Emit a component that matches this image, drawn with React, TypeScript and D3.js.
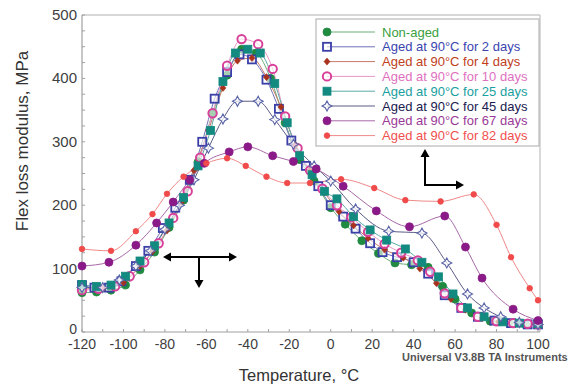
import React from "react";
import * as d3 from "d3";

type Pt = [number, number];

const xTicks = [-120, -100, -80, -60, -40, -20, 0, 20, 40, 60, 80, 100];
const yTicks = [0, 100, 200, 300, 400, 500];

const nonAged: Pt[] = [[-120,62],[-113,63],[-106,66],[-99,74],[-92,98],[-85,126],[-78,165],[-71,208],[-64,268],[-57,345],[-50,405],[-43,446],[-36,440],[-29,400],[-22,330],[-15,272],[-8,238],[0,196],[7,170],[15,144],[23,124],[31,109],[39,106],[47,102],[54,72],[60,52],[68,30],[77,17],[86,14],[94,12],[100,12]];
const aged2: Pt[] = [[-120,74],[-114,70],[-107,70],[-101,80],[-94,104],[-88,128],[-81,164],[-75,196],[-68,240],[-62,300],[-56,368],[-50,410],[-44,438],[-38,430],[-31,398],[-25,352],[-19,302],[-12,262],[-6,230],[0,200],[6,182],[12,163],[19,140],[25,126],[32,118],[40,110],[47,92],[55,58],[63,38],[71,24],[79,18],[87,14],[95,12],[100,12]];
const aged4: Pt[] = [[-120,70],[-110,68],[-100,78],[-92,104],[-86,127],[-79,160],[-72,205],[-66,255],[-59,318],[-52,385],[-45,428],[-38,432],[-31,402],[-24,355],[-17,295],[-10,255],[-3,220],[4,190],[11,168],[18,148],[26,130],[35,117],[43,100],[51,77],[58,52],[65,35],[73,22],[81,16],[90,13],[100,12]];
const aged10: Pt[] = [[-120,66],[-112,68],[-104,72],[-97,88],[-90,110],[-83,140],[-76,180],[-69,222],[-63,275],[-57,345],[-50,420],[-43,462],[-35,454],[-28,415],[-22,340],[-16,290],[-10,255],[-4,226],[3,200],[10,181],[18,158],[26,139],[34,125],[42,113],[48,95],[55,61],[63,38],[71,24],[80,17],[88,14],[95,13],[100,12]];
const aged25: Pt[] = [[-120,75],[-113,72],[-106,74],[-99,88],[-92,112],[-85,136],[-78,172],[-71,212],[-64,262],[-58,318],[-52,395],[-46,440],[-40,446],[-34,440],[-27,392],[-21,330],[-15,278],[-9,248],[-3,222],[3,210],[11,182],[19,161],[27,145],[36,131],[44,110],[52,87],[59,60],[66,38],[74,24],[83,16],[91,14],[100,13]];
const aged45: Pt[] = [[-120,70],[-110,70],[-102,82],[-94,104],[-87,128],[-80,162],[-73,200],[-66,240],[-59,290],[-52,336],[-45,364],[-35,364],[-27,335],[-18,296],[-8,262],[0,238],[12,194],[28,159],[44,156],[56,109],[66,60],[74,38],[82,24],[91,15],[100,12]];
const aged67: Pt[] = [[-120,104],[-107,110],[-94,137],[-84,172],[-76,205],[-68,240],[-61,266],[-49,284],[-40,292],[-28,278],[-18,269],[-7,257],[6,230],[22,191],[38,166],[55,183],[65,134],[73,85],[88,36],[100,18]];
const aged82: Pt[] = [[-120,131],[-106,128],[-94,159],[-86,186],[-79,218],[-71,245],[-60,266],[-50,274],[-41,262],[-31,245],[-21,235],[-10,235],[5,241],[21,227],[36,208],[53,206],[69,217],[80,169],[87,118],[96,69],[100,50]];

const seriesNames = [
  "Non-aged",
  "Aged at 90°C for 2 days",
  "Aged at 90°C for 4 days",
  "Aged at 90°C for 10 days",
  "Aged at 90°C for 25 days",
  "Aged at 90°C for 45 days",
  "Aged at 90°C for 67 days",
  "Aged at 90°C for 82 days",
];
const seriesData = [nonAged, aged2, aged4, aged10, aged25, aged45, aged67, aged82];

type Style = { marker: string; color: string; line: string; text: string; fill: string; r: number };
const styles: Style[] = [
  { marker: "circle", color: "#1f8a40", line: "#6aae78", text: "#3aa040", fill: "#1f8a40", r: 4 },
  { marker: "square", color: "#3b3fa8", line: "#7070b8", text: "#3a44b0", fill: "rgba(255,255,255,0.6)", r: 4 },
  { marker: "diamond", color: "#a8321e", line: "#c87868", text: "#c0401a", fill: "#a8321e", r: 3 },
  { marker: "circle", color: "#d8409a", line: "#e898c8", text: "#e070c0", fill: "rgba(255,255,255,0.6)", r: 4.2 },
  { marker: "square", color: "#138a80", line: "#58aaa4", text: "#1aa0a0", fill: "#138a80", r: 4 },
  { marker: "star", color: "#5a64a8", line: "#5a5a88", text: "#202050", fill: "rgba(255,255,255,0.7)", r: 5 },
  { marker: "circle", color: "#8a1a88", line: "#a868a8", text: "#9a3a98", fill: "#8a1a88", r: 4 },
  { marker: "circle", color: "#f04a4a", line: "#f08888", text: "#f05050", fill: "#f04a4a", r: 2.8 },
];

const W = 586, H = 384;
const x = d3.scaleLinear().domain([-120, 100]).range([82, 538]);
const y = d3.scaleLinear().domain([0, 500]).range([332, 15]);

function Marker({ s, cx, cy }: { s: Style; cx: number; cy: number }) {
  const r = s.r;
  if (s.marker === "circle") {
    const open = s.fill !== s.color;
    return <circle cx={cx} cy={cy} r={r} fill={s.fill} stroke={s.color} strokeWidth={open ? 2 : 0.8} />;
  }
  if (s.marker === "square") {
    const open = s.fill !== s.color;
    return <rect x={cx - r} y={cy - r} width={2 * r} height={2 * r} fill={s.fill} stroke={s.color} strokeWidth={open ? 1.8 : 0.8} />;
  }
  if (s.marker === "diamond") {
    return <path d={`M${cx},${cy - r - 0.5}L${cx + r},${cy}L${cx},${cy + r + 0.5}L${cx - r},${cy}Z`} fill={s.fill} stroke={s.color} strokeWidth={0.6} />;
  }
  const ri = r * 0.35;
  const d = `M${cx},${cy - r}L${cx + ri},${cy - ri}L${cx + r},${cy}L${cx + ri},${cy + ri}L${cx},${cy + r}L${cx - ri},${cy + ri}L${cx - r},${cy}L${cx - ri},${cy - ri}Z`;
  return <path d={d} fill={s.fill} stroke={s.color} strokeWidth={1.1} />;
}

function Arrow({ x1, y1, x2, y2 }: { x1: number; y1: number; x2: number; y2: number }) {
  const a = Math.atan2(y2 - y1, x2 - x1);
  const L = 8, Wd = 4.5;
  const bx = x2 - L * Math.cos(a), by = y2 - L * Math.sin(a);
  const px = -Math.sin(a) * Wd, py = Math.cos(a) * Wd;
  return (
    <g>
      <line x1={x1} y1={y1} x2={bx} y2={by} stroke="#000" strokeWidth={2} />
      <path d={`M${x2},${y2}L${bx + px},${by + py}L${bx - px},${by - py}Z`} fill="#000" />
    </g>
  );
}

export default function App() {
  const line = d3.line<Pt>().x(d => x(d[0])).y(d => y(d[1])).curve(d3.curveMonotoneX);
  const minorX = d3.range(-120, 101, 10);
  const minorY = d3.range(0, 501, 25);
  const font = "Arial, 'Liberation Sans', sans-serif";
  const legendY = (i: number) => 32 + i * 14.8;
  return (
    <svg width={W} height={H} style={{ position: "absolute", left: 0, top: 0, background: "#fff" }} fontFamily={font}>
      <rect x={0} y={0} width={W} height={H} fill="#fff" />
      {/* frame */}
      <line x1={x(-120)} y1={y(500)} x2={x(100) + 2} y2={y(500)} stroke="#b0b0b0" strokeWidth={1.2} />
      <line x1={x(100) + 2} y1={y(500)} x2={x(100) + 2} y2={y(0)} stroke="#c0c0c0" strokeWidth={1.2} />
      <line x1={x(-120)} y1={y(0)} x2={x(100) + 2} y2={y(0)} stroke="#a0a0a0" strokeWidth={1.2} />
      <line x1={x(-120)} y1={y(0)} x2={x(-120)} y2={y(500)} stroke="#a0a0a0" strokeWidth={1.2} />
      {minorX.map(t => (
        <line key={"mx" + t} x1={x(t)} x2={x(t)} y1={y(0)} y2={y(0) - 3} stroke="#a0a0a0" />
      ))}
      {minorY.map(t => (
        <line key={"my" + t} x1={x(-120)} x2={x(-120) + 3} y1={y(t)} y2={y(t)} stroke="#a0a0a0" />
      ))}
      {xTicks.map(t => (
        <text key={"xt" + t} x={x(t)} y={349} textAnchor="middle" fontSize={14} fill="#404040">{t}</text>
      ))}
      {yTicks.map(t => (
        <text key={"yt" + t} x={77} y={y(t) + (t === 0 ? 1.5 : 5)} textAnchor="end" fontSize={t === 0 ? 14 : 15} fill="#404040">{t}</text>
      ))}
      <text x={299} y={381} textAnchor="middle" fontSize={16.5} fill="#333">Temperature, °C</text>
      <text transform={`translate(28,141) rotate(-90)`} textAnchor="middle" fontSize={17} fill="#333">Flex loss modulus, MPa</text>
      <text x={402} y={361} fontSize={11} fontWeight="bold" fill="#555">Universal V3.8B TA Instruments</text>

      {/* lines */}
      {seriesData.map((d, i) => (
        <path key={"l" + i} d={line(d) || ""} fill="none" stroke={styles[i].line} strokeWidth={1} />
      ))}
      {seriesData.map((d, i) => (
        <g key={"m" + i}>
          {d.map((p, j) => (
            <Marker key={j} s={styles[i]} cx={x(p[0])} cy={y(p[1])} />
          ))}
        </g>
      ))}

      {/* legend */}
      <rect x={316} y={19} width={223} height={127} fill="#fff" stroke="#b8b8b8" strokeWidth={1.2} />
      {seriesNames.map((n, i) => (
        <g key={"lg" + i}>
          <line x1={327} x2={375} y1={legendY(i)} y2={legendY(i)} stroke={styles[i].line} strokeWidth={1} />
          <Marker s={styles[i]} cx={327} cy={legendY(i)} />
          <text x={382} y={legendY(i) + 4.5} fontSize={13} fill={styles[i].text}>{n}</text>
        </g>
      ))}

      {/* annotation arrows */}
      <Arrow x1={199} y1={257} x2={163} y2={257} />
      <Arrow x1={199} y1={257} x2={237} y2={257} />
      <Arrow x1={199} y1={257} x2={199} y2={288} />
      <Arrow x1={425} y1={185} x2={425} y2={149} />
      <Arrow x1={424} y1={185} x2={464} y2={185} />
    </svg>
  );
}
